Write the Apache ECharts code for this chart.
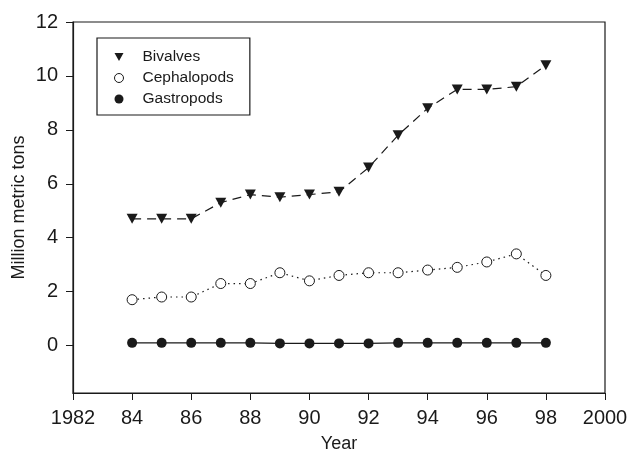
<!DOCTYPE html>
<html><head><meta charset="utf-8">
<script src="https://cdn.jsdelivr.net/npm/echarts@6/dist/echarts.min.js"></script>
<style>html,body{margin:0;padding:0;background:#fff}#c{width:631px;height:451px}</style>
</head><body><div id="c"></div>
<script>
const years = [1984,1985,1986,1987,1988,1989,1990,1991,1992,1993,1994,1995,1996,1997,1998];
const bivalves = [4.7,4.7,4.7,5.3,5.6,5.5,5.6,5.7,6.6,7.8,8.8,9.5,9.5,9.6,10.4];
const cephalopods = [1.7,1.8,1.8,2.3,2.3,2.7,2.4,2.6,2.7,2.7,2.8,2.9,3.1,3.4,2.6];
const gastropods = [0.1,0.1,0.1,0.1,0.1,0.08,0.08,0.08,0.08,0.1,0.1,0.1,0.1,0.1,0.1];
const xTicks = [1982,1984,1986,1988,1990,1992,1994,1996,1998,2000];
const yTicks = [0,2,4,6,8,10,12];

const tri = 'path://M0,0L10,0L5,9Z';
const ink = '#1a1a1a';
const font = 'Liberation Sans, Arial, sans-serif';
const pairs = a => years.map((y,i)=>[y,a[i]]);

const chart = echarts.init(document.getElementById('c'));
chart.setOption({
  animation:false,
  backgroundColor:'#fff',
  grid:{left:73,right:26,top:22,bottom:58,show:true,borderColor:ink,borderWidth:1.2,backgroundColor:'transparent',
    containLabel:false,outerBoundsMode:'none'},
  legend:{
    orient:'vertical', left:97, top:38,
    borderColor:ink, borderWidth:1.2, padding:[11,16,8,17],
    itemGap:5, itemWidth:9, itemHeight:9,
    textStyle:{fontFamily:font,fontSize:15.5,color:ink,padding:[0,0,0,14]},
    data:[
      {name:'Bivalves',icon:tri},
      {name:'Cephalopods',icon:'circle',itemStyle:{color:'#fff',borderColor:ink,borderWidth:1}},
      {name:'Gastropods',icon:'circle'}
    ]
  },
  xAxis:{
    type:'value', min:1982, max:2000,
    name:'Year', nameLocation:'middle', nameGap:42, nameMoveOverlap:false,
    nameTextStyle:{fontFamily:font,fontSize:18,color:ink},
    axisLine:{onZero:false,lineStyle:{color:ink,width:1.2}},
    axisTick:{show:true,inside:false,length:7,customValues:xTicks,lineStyle:{color:ink}},
    axisLabel:{customValues:xTicks,fontFamily:font,fontSize:20,color:ink,margin:15,
      formatter:v=> (v===1982||v===2000)? String(v) : String(v).slice(2)},
    splitLine:{show:false}
  },
  yAxis:{
    type:'value', min:-1.76, max:12,
    name:'Million metric tons', nameLocation:'middle', nameGap:45, nameMoveOverlap:false,
    nameTextStyle:{fontFamily:font,fontSize:18,color:ink},
    axisLine:{show:true,onZero:false,lineStyle:{color:ink,width:1.2}},
    axisTick:{show:true,inside:false,length:7,customValues:yTicks,lineStyle:{color:ink}},
    axisLabel:{customValues:yTicks,fontFamily:font,fontSize:20,color:ink,margin:15},
    splitLine:{show:false}
  },
  series:[
    {name:'Bivalves',type:'line',data:pairs(bivalves),symbol:tri,symbolSize:[11,10],
      itemStyle:{color:ink},lineStyle:{color:ink,width:1.2,type:[9,6]},z:3},
    {name:'Cephalopods',type:'line',data:pairs(cephalopods),symbol:'circle',symbolSize:10,showAllSymbol:true,
      itemStyle:{color:'#fff',borderColor:ink,borderWidth:1},lineStyle:{color:ink,width:1.2,type:[1.5,4]},z:3},
    {name:'Gastropods',type:'line',data:pairs(gastropods),symbol:'circle',symbolSize:10,
      itemStyle:{color:ink},lineStyle:{color:ink,width:1.2},z:3}
  ]
});
</script></body></html>
